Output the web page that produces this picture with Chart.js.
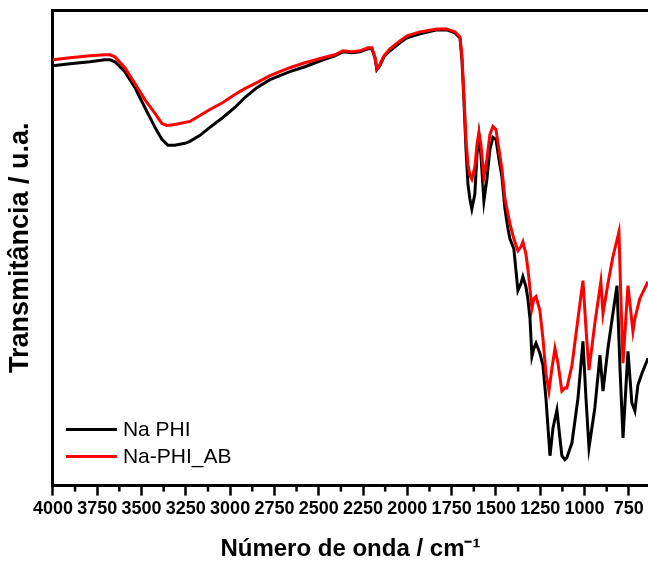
<!DOCTYPE html>
<html>
<head>
<meta charset="utf-8">
<script src="https://cdn.jsdelivr.net/npm/chart.js@4"></script>
<style>
  html, body { margin: 0; padding: 0; background: #fff; }
  #wrap { width: 648px; height: 564px; }
</style>
</head>
<body>
<div id="wrap"><canvas id="c" width="648" height="564"></canvas></div>
<script>
// ---- Data ----
const seriesNames = ["Na PHI", "Na-PHI_AB"];
const seriesColors = ["#000000", "#ff0000"];

const wnNaPHI = [4000,3904,3791,3707,3678,3650,3594,3537,3481,3424,3385,3351,3312,3255,3227,3170,3114,3041,2973,2917,2849,2775,2663,2578,2476,2409,2364,2313,2268,2222,2200,2183,2172,2155,2132,2098,2042,2002,1929,1833,1777,1732,1703,1692,1681,1669,1658,1647,1636,1619,1607,1596,1585,1568,1551,1534,1517,1500,1483,1466,1449,1432,1421,1399,1376,1359,1348,1331,1320,1308,1297,1286,1274,1252,1235,1218,1195,1178,1156,1139,1128,1111,1100,1071,1037,1009,992,975,942,913,896,868,840,817,800,783,767,755,733,716,699,676,642];
const tNaPHI = [422,424,426,428,428,426,416,400,380,360,348,342,342,344,346,352,360,370,380,390,400,408,416,421,428,432,436,435,436,439,439,430,418,422,431,437,445,450,454,458,458,455,450,428,388,338,303,288,278,293,333,352,333,286,308,338,350,348,328,310,278,258,248,238,196,203,210,200,188,168,130,138,143,133,121,88,30,58,76,48,30,26,28,43,88,145,88,38,78,131,95,138,173,201,118,48,98,135,83,75,101,113,128];

const wnNaPHI_AB = [4000,3904,3791,3707,3678,3650,3594,3537,3481,3424,3385,3357,3312,3227,3170,3114,3041,2973,2917,2849,2775,2663,2578,2476,2409,2364,2313,2268,2222,2200,2183,2172,2155,2132,2098,2042,2002,1929,1833,1777,1732,1703,1692,1681,1669,1658,1647,1636,1619,1607,1596,1585,1568,1551,1534,1517,1500,1483,1466,1449,1432,1421,1399,1376,1359,1348,1331,1320,1308,1297,1286,1274,1252,1235,1218,1201,1184,1167,1150,1128,1111,1100,1071,1037,1009,992,975,942,908,896,868,840,806,795,783,767,755,727,716,688,642];
const tNaPHI_AB = [428,430,432,433,433,431,420,404,388,374,364,362,363,366,372,378,385,393,399,405,412,420,425,430,433,437,436,437,440,440,431,419,423,432,439,447,452,456,459,459,456,451,433,393,348,323,312,308,320,343,355,343,310,328,353,361,358,338,318,288,273,263,248,236,240,245,233,218,198,178,188,190,176,148,113,95,118,138,123,95,98,98,121,168,206,158,116,163,205,173,203,230,255,188,123,168,201,155,168,188,205];

const majorTicks = [4000,3750,3500,3250,3000,2750,2500,2250,2000,1750,1500,1250,1000,750];
const minorTicks = [3875,3625,3375,3125,2875,2625,2375,2125,1875,1625,1375,1125,875];

const xTitle = "Número de onda / cm⁻¹";
const yTitle = "Transmitância / u.a.";

// ---- Chart ----
const FONT = '"Liberation Sans", Arial, Helvetica, sans-serif';

function toPoints(xs, ys) { return xs.map((x, i) => ({ x: x, y: ys[i] })); }

const overlay = {
  id: 'overlay',
  afterDraw(chart) {
    const ctx = chart.ctx;
    const xs = chart.scales.x;
    const area = chart.chartArea;
    ctx.save();
    // minor ticks on bottom axis
    ctx.strokeStyle = '#000';
    ctx.lineWidth = 2.5;
    minorTicks.forEach(v => {
      const px = xs.getPixelForValue(v);
      if (px < area.left - 1 || px > chart.width) return;
      ctx.beginPath();
      ctx.moveTo(px, area.bottom);
      ctx.lineTo(px, area.bottom + 6);
      ctx.stroke();
    });
    // legend inside plot (lower left)
    const ordered = chart.data.datasets.slice().sort((a, b) => a.legendIndex - b.legendIndex);
    ordered.forEach((ds, i) => {
      const y = area.bottom - 56 + i * 27;
      ctx.strokeStyle = ds.borderColor;
      ctx.lineWidth = 3;
      ctx.beginPath();
      ctx.moveTo(area.left + 13, y);
      ctx.lineTo(area.left + 64, y);
      ctx.stroke();
      ctx.fillStyle = '#000';
      ctx.font = '21px ' + FONT;
      ctx.textBaseline = 'middle';
      ctx.textAlign = 'left';
      ctx.fillText(ds.label, area.left + 70, y + 1);
    });
    ctx.restore();
  }
};

new Chart(document.getElementById('c'), {
  type: 'line',
  data: {
    datasets: [
      { label: seriesNames[0], legendIndex: 0, order: 1, data: toPoints(wnNaPHI, tNaPHI),
        borderColor: seriesColors[0], borderWidth: 3, pointRadius: 0, tension: 0, fill: false },
      { label: seriesNames[1], legendIndex: 1, order: 0, data: toPoints(wnNaPHI_AB, tNaPHI_AB),
        borderColor: seriesColors[1], borderWidth: 3, pointRadius: 0, tension: 0, fill: false }
    ]
  },
  options: {
    responsive: false,
    animation: false,
    events: [],
    layout: { padding: { top: 10, left: 0, right: 0, bottom: 0 } },
    plugins: { legend: { display: false }, tooltip: { enabled: false } },
    scales: {
      x: {
        type: 'linear', position: 'bottom', reverse: true, min: 642, max: 4000,
        afterBuildTicks: (scale) => { scale.ticks = majorTicks.map(v => ({ value: v })); },
        grid: { drawOnChartArea: false, drawTicks: true, tickLength: 10, tickWidth: 2.5, tickColor: '#000' },
        border: { display: true, width: 3, color: '#000' },
        ticks: { color: '#000', font: { family: FONT, size: 18, weight: 'bold' }, padding: 3,
                 maxRotation: 0, autoSkip: false, callback: (v) => String(v) },
        title: { display: true, text: xTitle, color: '#000',
                 font: { family: FONT, size: 24, weight: 'bold' }, padding: { top: 12, bottom: 0 } }
      },
      x2: {
        type: 'linear', position: 'top', reverse: true, min: 642, max: 4000,
        grid: { drawOnChartArea: false, drawTicks: false },
        border: { display: true, width: 3, color: '#000' },
        ticks: { display: false }
      },
      y: {
        type: 'linear', position: 'left', min: 0, max: 478,
        grid: { drawOnChartArea: false, drawTicks: false },
        border: { display: true, width: 3, color: '#000' },
        ticks: { display: false },
        title: { display: true, text: yTitle, color: '#000',
                 font: { family: FONT, size: 27, weight: 'bold' }, padding: { top: 4, bottom: 16.5 } }
      }
    }
  },
  plugins: [overlay]
});
</script>
</body>
</html>
